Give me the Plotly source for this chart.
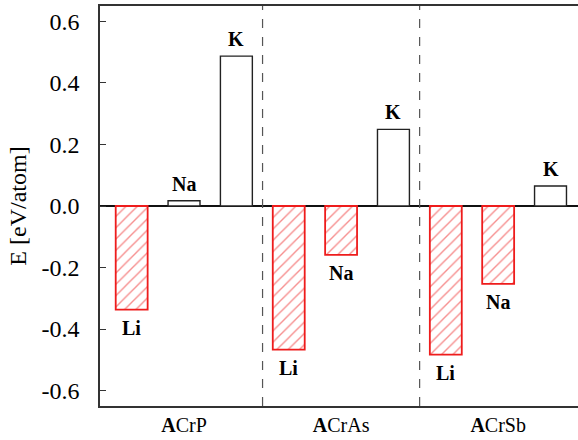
import plotly.graph_objects as go

# ---- data ----
compounds = ["ACrP", "ACrAs", "ACrSb"]
compound_labels = ["<b>A</b>CrP", "<b>A</b>CrAs", "<b>A</b>CrSb"]
alkali = ["Li", "Na", "K"]
energy_ACrP = [-0.337, 0.017, 0.487]
energy_ACrAs = [-0.467, -0.159, 0.249]
energy_ACrSb = [-0.483, -0.253, 0.065]
y_tickvals = [-0.6, -0.4, -0.2, 0.0, 0.2, 0.4, 0.6]
y_ticktext = ["-0.6", "-0.4", "-0.2", "0.0", "0.2", "0.4", "0.6"]

groups = [energy_ACrP, energy_ACrAs, energy_ACrSb]
n_al = len(alkali)

neg = dict(x=[], y=[])
pos = dict(x=[], y=[])
labels = []
for gi, vals in enumerate(groups):
    for ai, v in enumerate(vals):
        d = neg if v < 0 else pos
        xpos = gi * n_al + ai
        d["x"].append(xpos)
        d["y"].append(v)
        labels.append((xpos, v, alkali[ai]))

RED = "#ee1c1c"
SERIF = "Liberation Serif"

fig = go.Figure()
fig.add_trace(go.Bar(
    x=neg["x"], y=neg["y"], width=0.61,
    marker=dict(color="white", line=dict(color=RED, width=1.8),
                pattern=dict(shape="/", fgcolor=RED, size=8, solidity=0.17)),
    showlegend=False,
))
fig.add_trace(go.Bar(
    x=pos["x"], y=pos["y"], width=0.61,
    marker=dict(color="white", line=dict(color="#222222", width=1.4)),
    showlegend=False,
))

for xpos, v, name in labels:
    fig.add_annotation(x=xpos, y=v, text="<b>" + name + "</b>", showarrow=False,
                       yshift=17 if v >= 0 else -18,
                       font=dict(family=SERIF, size=20, color="black"))

shapes = []
for gi in range(1, len(groups)):
    xb = gi * n_al - 0.5
    shapes.append(dict(type="line", xref="x", yref="paper", x0=xb, x1=xb,
                       y0=0, y1=1, line=dict(color="#555555", width=1.2, dash="dash")))

fig.update_layout(
    width=578, height=440,
    margin=dict(l=100, r=0, t=6, b=34),
    plot_bgcolor="white", paper_bgcolor="white",
    barmode="overlay",
    shapes=shapes,
    font=dict(family=SERIF, color="black"),
    xaxis=dict(range=[-0.605, 8.525],
               tickvals=[gi * n_al + (n_al - 1) / 2 for gi in range(len(groups))],
               ticktext=compound_labels, showgrid=False, zeroline=False,
               showline=True, mirror=True, linecolor="#333333", linewidth=1.5,
               ticks="", tickfont=dict(family=SERIF, size=20, color="black")),
    yaxis=dict(range=[-0.65, 0.65], tickvals=y_tickvals, ticktext=y_ticktext,
               showgrid=False, zeroline=True, zerolinecolor="#111111", zerolinewidth=1.5,
               showline=True, mirror=False, linecolor="#333333", linewidth=1.5,
               ticks="inside", ticklen=6, tickcolor="#333333", ticklabelstandoff=14,
               tickfont=dict(family=SERIF, size=24, color="black"),
               title=dict(text="E [eV/atom]", standoff=8,
                          font=dict(family=SERIF, size=24, color="black"))),
)

fig.write_html("out.html")
